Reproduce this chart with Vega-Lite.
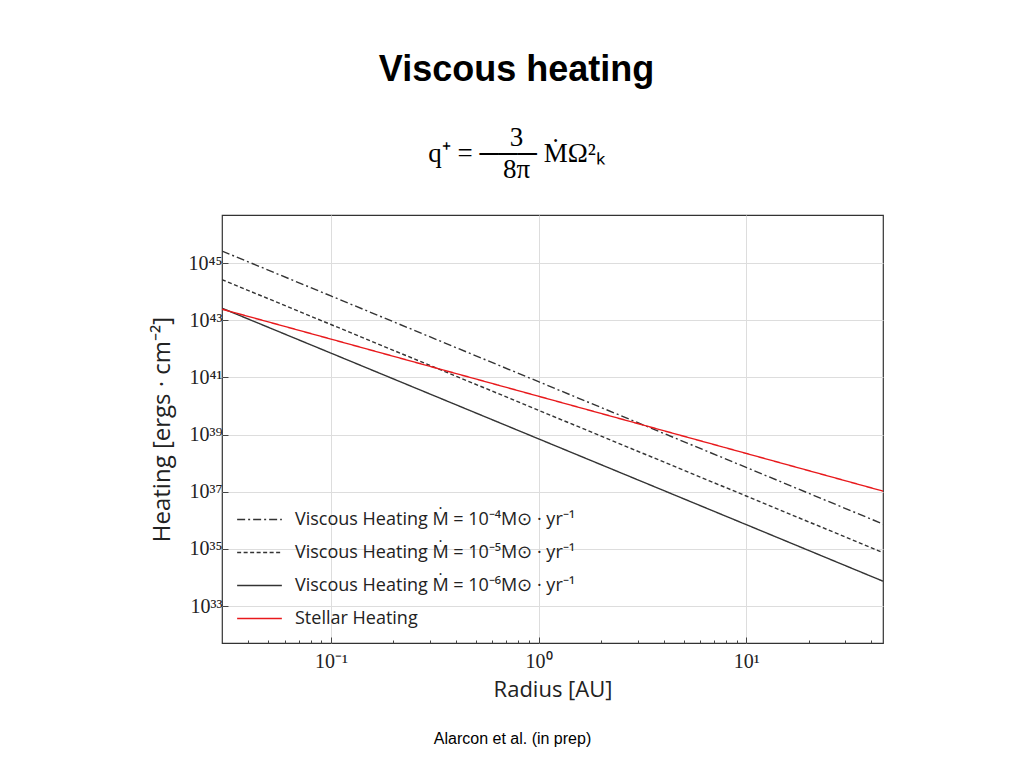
{
  "$schema": "https://vega.github.io/schema/vega-lite/v6.json",
  "background": "white",
  "padding": {"left": 149, "top": 52, "right": 5, "bottom": 5},
  "title": {
    "text": "Viscous heating",
    "subtitle": ["3", "q⁺ = ─── ṀΩ²ₖ", "8π"],
    "font": "Liberation Sans",
    "fontSize": 36,
    "fontWeight": "bold",
    "color": "black",
    "subtitleFont": "Liberation Serif",
    "subtitleFontSize": 27,
    "subtitleLineHeight": 16,
    "subtitleColor": "black",
    "subtitlePadding": 36,
    "offset": 30,
    "anchor": "middle"
  },
  "datasets": {
    "curves": [
      {"series": "Viscous Heating Ṁ = 10⁻⁴M⊙ · yr⁻¹", "radius": 0.0299, "heating": 2.63e45},
      {"series": "Viscous Heating Ṁ = 10⁻⁴M⊙ · yr⁻¹", "radius": 0.1, "heating": 7.08e43},
      {"series": "Viscous Heating Ṁ = 10⁻⁴M⊙ · yr⁻¹", "radius": 1, "heating": 7.08e40},
      {"series": "Viscous Heating Ṁ = 10⁻⁴M⊙ · yr⁻¹", "radius": 10, "heating": 7.08e37},
      {"series": "Viscous Heating Ṁ = 10⁻⁴M⊙ · yr⁻¹", "radius": 45.6, "heating": 7.41e35},
      {"series": "Viscous Heating Ṁ = 10⁻⁵M⊙ · yr⁻¹", "radius": 0.0299, "heating": 2.63e44},
      {"series": "Viscous Heating Ṁ = 10⁻⁵M⊙ · yr⁻¹", "radius": 0.1, "heating": 7.08e42},
      {"series": "Viscous Heating Ṁ = 10⁻⁵M⊙ · yr⁻¹", "radius": 1, "heating": 7.08e39},
      {"series": "Viscous Heating Ṁ = 10⁻⁵M⊙ · yr⁻¹", "radius": 10, "heating": 7.08e36},
      {"series": "Viscous Heating Ṁ = 10⁻⁵M⊙ · yr⁻¹", "radius": 45.6, "heating": 7.41e34},
      {"series": "Viscous Heating Ṁ = 10⁻⁶M⊙ · yr⁻¹", "radius": 0.0299, "heating": 2.63e43},
      {"series": "Viscous Heating Ṁ = 10⁻⁶M⊙ · yr⁻¹", "radius": 0.1, "heating": 7.08e41},
      {"series": "Viscous Heating Ṁ = 10⁻⁶M⊙ · yr⁻¹", "radius": 1, "heating": 7.08e38},
      {"series": "Viscous Heating Ṁ = 10⁻⁶M⊙ · yr⁻¹", "radius": 10, "heating": 7.08e35},
      {"series": "Viscous Heating Ṁ = 10⁻⁶M⊙ · yr⁻¹", "radius": 45.6, "heating": 7.41e33},
      {"series": "Stellar Heating", "radius": 0.0299, "heating": 2.43e43},
      {"series": "Stellar Heating", "radius": 0.1, "heating": 2.19e42},
      {"series": "Stellar Heating", "radius": 1, "heating": 2.19e40},
      {"series": "Stellar Heating", "radius": 10, "heating": 2.19e38},
      {"series": "Stellar Heating", "radius": 45.6, "heating": 1.05e37}
    ],
    "note": [{"text": "Alarcon et al. (in prep)"}]
  },
  "spacing": 28,
  "vconcat": [
    {
      "width": 661,
      "height": 428,
      "data": {"name": "curves"},
      "mark": {"type": "line", "clip": true},
      "encoding": {
        "x": {
          "field": "radius",
          "type": "quantitative",
          "scale": {"type": "log", "domain": [0.0299, 45.6], "nice": false},
          "axis": {
            "title": "Radius [AU]",
            "values": [0.04, 0.05, 0.06, 0.07, 0.08, 0.09, 0.1, 0.2, 0.3, 0.4, 0.5, 0.6, 0.7, 0.8, 0.9, 1, 2, 3, 4, 5, 6, 7, 8, 9, 10, 20, 30, 40],
            "labelExpr": "datum.value == 0.1 ? '10⁻¹' : datum.value == 1 ? '10⁰' : datum.value == 10 ? '10¹' : ''",
            "gridOpacity": {"condition": {"test": "datum.value == 0.1 || datum.value == 1 || datum.value == 10", "value": 1}, "value": 0},
            "tickSize": {"condition": {"test": "datum.value == 0.1 || datum.value == 1 || datum.value == 10", "value": -6}, "value": -3},
            "labelPadding": 14,
            "titlePadding": 8
          }
        },
        "y": {
          "field": "heating",
          "type": "quantitative",
          "scale": {"type": "log", "domain": [5.1e31, 4.8e46], "nice": false},
          "axis": {
            "title": "Heating [ergs · cm⁻²]",
            "titleFontSize": 24,
            "titlePadding": 14,
            "values": [1e33, 1e35, 1e37, 1e39, 1e41, 1e43, 1e45],
            "labelExpr": "'10' + (round(log(datum.value)/LN10) == 33 ? '³³' : round(log(datum.value)/LN10) == 35 ? '³⁵' : round(log(datum.value)/LN10) == 37 ? '³⁷' : round(log(datum.value)/LN10) == 39 ? '³⁹' : round(log(datum.value)/LN10) == 41 ? '⁴¹' : round(log(datum.value)/LN10) == 43 ? '⁴³' : '⁴⁵')",
            "tickSize": -6,
            "labelPadding": 6
          }
        },
        "color": {
          "field": "series",
          "type": "nominal",
          "title": null,
          "scale": {
            "domain": ["Viscous Heating Ṁ = 10⁻⁴M⊙ · yr⁻¹", "Viscous Heating Ṁ = 10⁻⁵M⊙ · yr⁻¹", "Viscous Heating Ṁ = 10⁻⁶M⊙ · yr⁻¹", "Stellar Heating"],
            "range": ["#333333", "#333333", "#333333", "#e8191c"]
          },
          "legend": {
            "orient": "none",
            "legendX": 14,
            "legendY": 281,
            "symbolType": "stroke",
            "symbolSize": 2000,
            "symbolStrokeWidth": 1.5,
            "labelFont": "Open Sans",
            "labelFontSize": 18,
            "labelColor": "#222",
            "labelLimit": 600,
            "rowPadding": -12,
            "labelOffset": 12
          }
        },
        "strokeDash": {
          "field": "series",
          "type": "nominal",
          "title": null,
          "scale": {
            "domain": ["Viscous Heating Ṁ = 10⁻⁴M⊙ · yr⁻¹", "Viscous Heating Ṁ = 10⁻⁵M⊙ · yr⁻¹", "Viscous Heating Ṁ = 10⁻⁶M⊙ · yr⁻¹", "Stellar Heating"],
            "range": [[8, 3, 2, 3], [4, 2.5], [1, 0], [1, 0]]
          }
        },
        "strokeWidth": {
          "field": "series",
          "type": "nominal",
          "title": null,
          "scale": {
            "domain": ["Viscous Heating Ṁ = 10⁻⁴M⊙ · yr⁻¹", "Viscous Heating Ṁ = 10⁻⁵M⊙ · yr⁻¹", "Viscous Heating Ṁ = 10⁻⁶M⊙ · yr⁻¹", "Stellar Heating"],
            "range": [1.4, 1.4, 1.4, 2.6]
          }
        }
      }
    },
    {
      "width": 661,
      "height": 20,
      "view": {"stroke": null},
      "data": {"name": "note"},
      "mark": {"type": "text", "font": "Liberation Sans", "fontSize": 16, "color": "black", "dx": -40},
      "encoding": {"text": {"field": "text", "type": "nominal"}}
    }
  ],
  "config": {
    "view": {"stroke": "#333333", "strokeWidth": 1.2},
    "axis": {
      "domain": false,
      "grid": true,
      "gridColor": "#dddddd",
      "gridWidth": 1,
      "tickColor": "#444444",
      "labelFont": "Liberation Serif",
      "labelFontSize": 20,
      "labelColor": "#222222",
      "titleFont": "Open Sans",
      "titleFontSize": 22,
      "titleFontWeight": "normal",
      "titleColor": "#222222"
    }
  }
}
